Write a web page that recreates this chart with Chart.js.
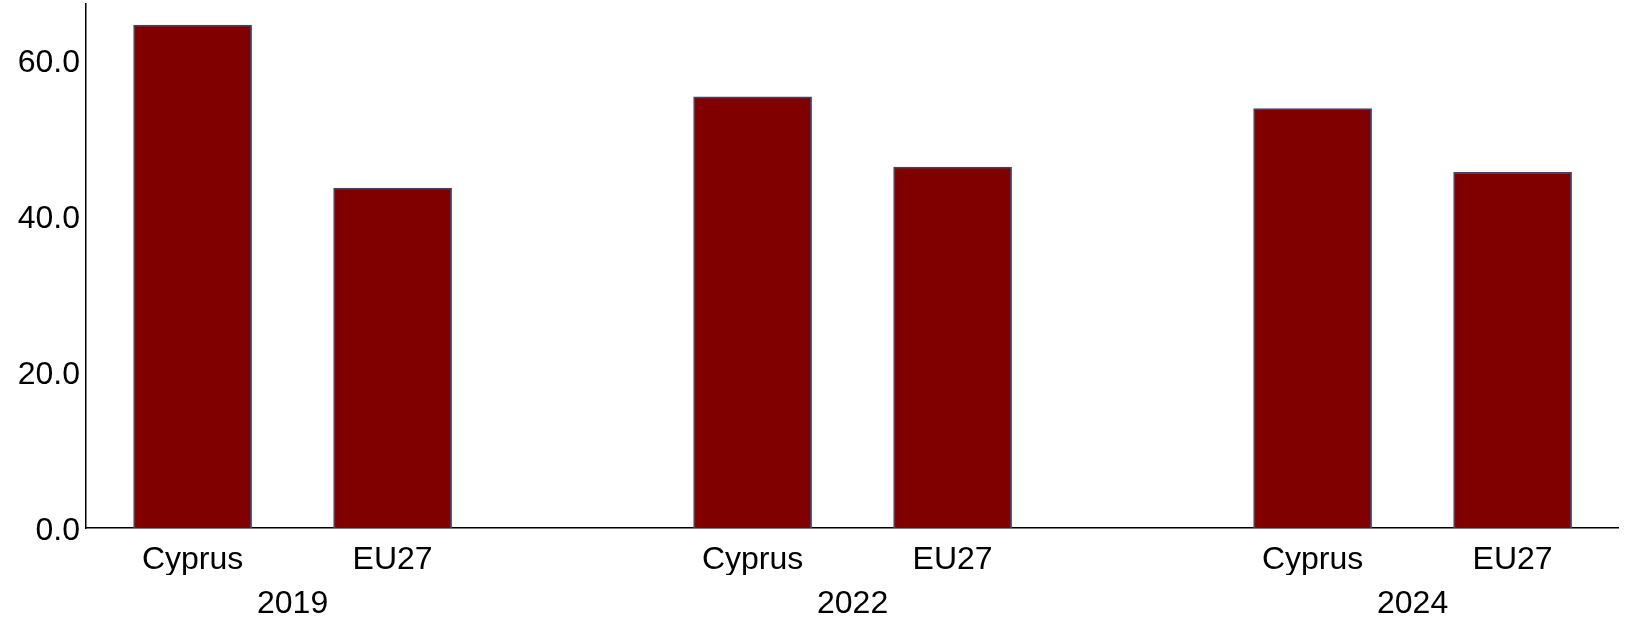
<!DOCTYPE html>
<html>
<head>
<meta charset="utf-8">
<script src="https://cdn.jsdelivr.net/npm/chart.js@4/dist/chart.umd.min.js"></script>
<style>
html,body{margin:0;padding:0;background:#fff;}
#wrap{width:1630px;height:622px;position:relative;}
</style>
</head>
<body>
<div id="wrap"><canvas id="c"></canvas></div>
<script>
/* DATA */
const years=['2019','2022','2024'];
const members=['Cyprus','EU27'];
const cyprus=[64.5,55.3,53.8];
const eu27=[43.6,46.3,45.6];
const yTicks=[0,20,40,60];

/* layout of slots on the x axis (units of one bar step) */
const firstX=0.533,groupStep=2.8,xMax=7.66;
const posOf=(g,m)=>firstX+g*groupStep+m;
const barPos=[];years.forEach((y,g)=>members.forEach((n,m)=>barPos.push(posOf(g,m))));
const groupPos=years.map((y,g)=>posOf(g,0.5));

const font={family:'"Liberation Sans", Arial, sans-serif',size:32};
const series=[cyprus,eu27];

new Chart(document.getElementById('c'),{
  type:'bar',
  data:{datasets:members.map((n,m)=>({
    label:n,
    data:series[m].map((v,g)=>({x:posOf(g,m),y:v})),
    backgroundColor:'#800000',borderColor:'#44445f',borderWidth:1.8,
    barThickness:118,grouped:false
  }))},
  options:{
    responsive:true,maintainAspectRatio:false,animation:false,
    layout:{padding:{top:4,right:12,left:0,bottom:0}},
    plugins:{legend:{display:false},tooltip:{enabled:false}},
    scales:{
      x:{type:'linear',position:'bottom',min:0,max:xMax,offset:false,
        grid:{display:false},border:{display:true,color:'#000',width:1.5},
        afterBuildTicks:s=>{s.ticks=barPos.map(v=>({value:v}));},
        afterFit:s=>{s.height=47;s.paddingLeft=0;s.paddingRight=0;},
        ticks:{autoSkip:false,maxRotation:0,padding:5,color:'#000',font,
          callback:(v,i)=>members[i%members.length]}},
      x2:{type:'linear',position:'bottom',min:0,max:xMax,offset:false,
        grid:{display:false},border:{display:false},
        afterBuildTicks:s=>{s.ticks=groupPos.map(v=>({value:v}));},
        afterFit:s=>{s.height=47;s.paddingLeft=0;s.paddingRight=0;},
        ticks:{autoSkip:false,maxRotation:0,padding:2,color:'#000',font,
          callback:(v,i)=>years[i]}},
      y:{min:0,max:67.2,
        grid:{display:false,drawTicks:false},border:{display:true,color:'#000',width:1.5},
        afterBuildTicks:s=>{s.ticks=yTicks.map(v=>({value:v}));},
        afterFit:s=>{s.width=86;s.paddingTop=0;s.paddingBottom=0;},
        ticks:{padding:6,labelOffset:3,color:'#000',font,callback:v=>v.toFixed(1)}}
    }
  }
});
</script>
</body>
</html>
